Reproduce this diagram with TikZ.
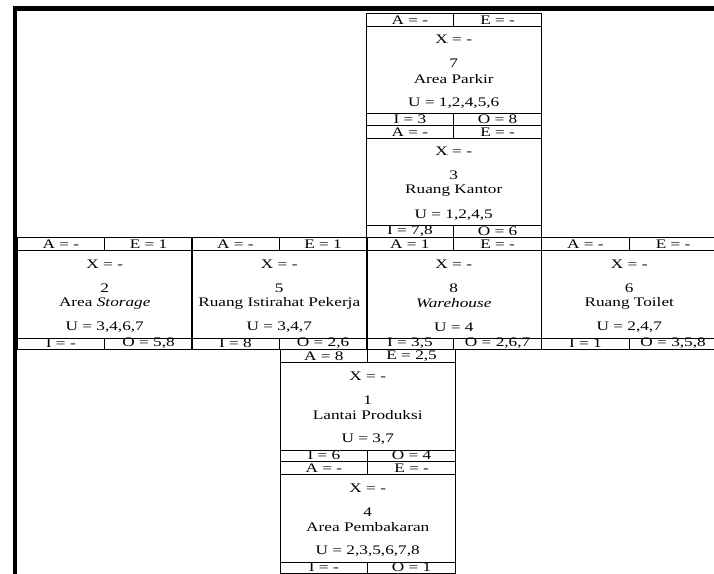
\documentclass[tikz,border=0pt]{standalone}
\usepackage{fontspec}
\setmainfont{Liberation Serif}[FakeStretch=1.32]
\newcommand{\bw}{175.5}
\newcommand{\bh}{112}
% one activity box: id, top-left corner, A, E, number, name, U, I, O
\newcommand{\arrbox}[9]{%
  \begin{scope}[shift={(#2)}]
    \draw (0,0) rectangle (\bw,\bh);
    \draw (0,13) -- (\bw,13);
    \draw (0,100.5) -- (\bw,100.5);
    \draw (\bw/2,0) -- (\bw/2,13);
    \draw (\bw/2,100.5) -- (\bw/2,\bh);
    \node (#1-a) at (\bw/4,6.8) {A = #3};
    \node (#1-e) at (3*\bw/4,6.8) {E = #4};
    \node (#1-x) at (\bw/2,26.5) {X = -};
    \node (#1-n) at (\bw/2,50.5) {#5};
    \node (#1-t) at (\bw/2,66) {#6};
    \node (#1-u) at (\bw/2,90) {U = #7};
    \node (#1-i) at (\bw/4,106) {I = #8};
    \node (#1-o) at (3*\bw/4,106) {O = #9};
  \end{scope}}

\begin{document}
\begin{tikzpicture}[x=0.75pt,y=-0.75pt,line width=0.6pt,
    font=\fontsize{9.8}{11}\selectfont,every node/.style={inner sep=0pt}]
   \useasboundingbox (0,0) rectangle (714,574);
   \clip (0,0) rectangle (714,574);
   \fill[white] (0,0) rectangle (714,574);
   % outer frame
   \draw[line width=3.4pt,line join=miter] (14.8,580) -- (14.8,8.5) -- (720,8.5);
   % column of boxes
   \arrbox{b7}{366,13}{-}{-}{7}{Area Parkir}{1,2,4,5,6}{3}{8}
   \arrbox{b3}{366,125}{-}{-}{3}{Ruang Kantor}{1,2,4,5}{7,8}{6}
   \arrbox{b2}{17,237.5}{-}{1}{2}{Area \textit{Storage}}{3,4,6,7}{-}{5,8}
   \arrbox{b5}{191.5,237.5}{-}{1}{5}{Ruang Istirahat Pekerja}{3,4,7}{8}{2,6}
   \arrbox{b8}{366,237.5}{1}{-}{8}{\textit{Warehouse}}{4}{3,5}{2,6,7}
   \arrbox{b6}{541.5,237.5}{-}{-}{6}{Ruang Toilet}{2,4,7}{1}{3,5,8}
   \arrbox{b1}{280,349.5}{8}{2,5}{1}{Lantai Produksi}{3,7}{6}{4}
   \arrbox{b4}{280,461.5}{-}{-}{4}{Area Pembakaran}{2,3,5,6,7,8}{-}{1}
\end{tikzpicture}
\end{document}
